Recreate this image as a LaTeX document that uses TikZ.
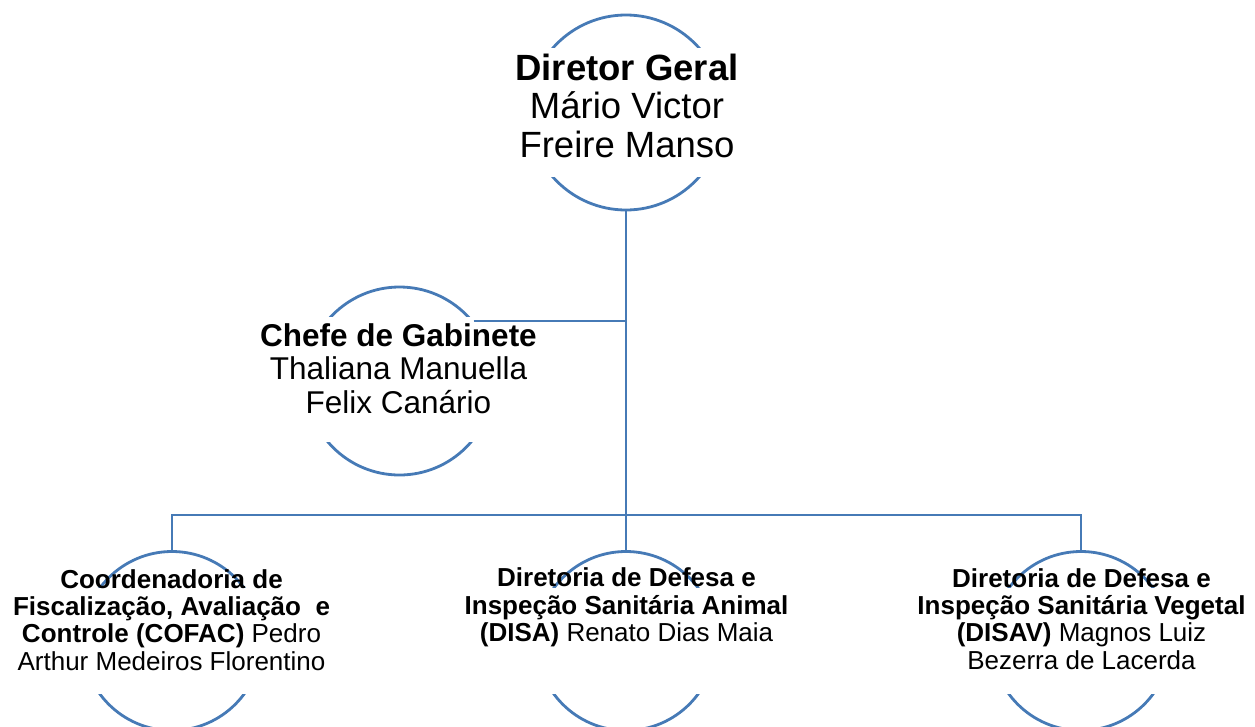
\documentclass[tikz,border=0pt]{standalone}
\usepackage{fontspec}
\setmainfont{Liberation Sans}
\usetikzlibrary{positioning}
\definecolor{LineBlue}{RGB}{70, 122, 182}

\tikzset{
  unit/.style={circle, draw=LineBlue, line width=2.8pt, fill=white, inner sep=0pt},
  textbg/.style={fill=white, inner sep=0pt},
  link/.style={draw=LineBlue, line width=2.8pt},
  orgtext/.style={align=center, inner sep=0pt, anchor=base}
}

\begin{document}
\begin{tikzpicture}[x=1pt, y=-1pt]
    \useasboundingbox (0,0) rectangle (1255,726);
    % circles
    \node[unit, minimum size=195pt] (dg) at (626, 112.5) {};
    \node[unit, minimum size=188pt] (cg) at (399.5, 381) {};
    \node[unit, minimum size=179pt] (cofac) at (172, 641) {};
    \node[unit, minimum size=179pt] (disa) at (626, 641) {};
    \node[unit, minimum size=179pt] (disav) at (1081, 641) {};

    % white text boxes over the circles
    \node[textbg, minimum width=260pt, minimum height=129pt] (dgbox) at (dg) {};
    \node[textbg, minimum width=250pt, minimum height=125pt] (cgbox) at (399.5, 379.5) {};
    \node[textbg, minimum width=236pt, minimum height=106pt] (cofacbox) at (cofac) {};
    \node[textbg, minimum width=236pt, minimum height=106pt] (disabox) at (disa) {};
    \node[textbg, minimum width=236pt, minimum height=106pt] (disavbox) at (disav) {};

    % connectors
    \coordinate (bus) at (626, 515);
    \draw[link] (dg.south) -- (disa.north);
    \draw[link] (cg.39) -- (cg.39 -| dg.south);
    \draw[link] (cofac.north) |- (bus) -| (disav.north);

    % texts (anchored on the last line)
    \node[orgtext, font=\fontsize{36.5}{38.5}\selectfont] (dgtext) at (627, 157)
        {\textbf{Diretor Geral}\\Mário Victor\\Freire Manso};
    \node[orgtext, font=\fontsize{31.5}{33.5}\selectfont] (cgtext) at (398.5, 413)
        {\textbf{Chefe de Gabinete}\\Thaliana Manuella\\Felix Canário};
    \node[orgtext, font=\fontsize{26}{27.3}\selectfont] (cofactext) at (171.5, 670)
        {\textbf{Coordenadoria de}\\\textbf{Fiscalização, Avaliação~ e}\\\textbf{Controle (COFAC)} Pedro\\Arthur Medeiros Florentino};
    \node[orgtext, font=\fontsize{26}{27.3}\selectfont] (disatext) at (626.5, 641.5)
        {\textbf{Diretoria de Defesa e}\\\textbf{Inspeção Sanitária Animal}\\\textbf{(DISA)} Renato Dias Maia};
    \node[orgtext, font=\fontsize{26}{27.3}\selectfont] (disavtext) at (1081.5, 669)
        {\textbf{Diretoria de Defesa e}\\\textbf{Inspeção Sanitária Vegetal}\\\textbf{(DISAV)} Magnos Luiz\\Bezerra de Lacerda};
\end{tikzpicture}
\end{document}
